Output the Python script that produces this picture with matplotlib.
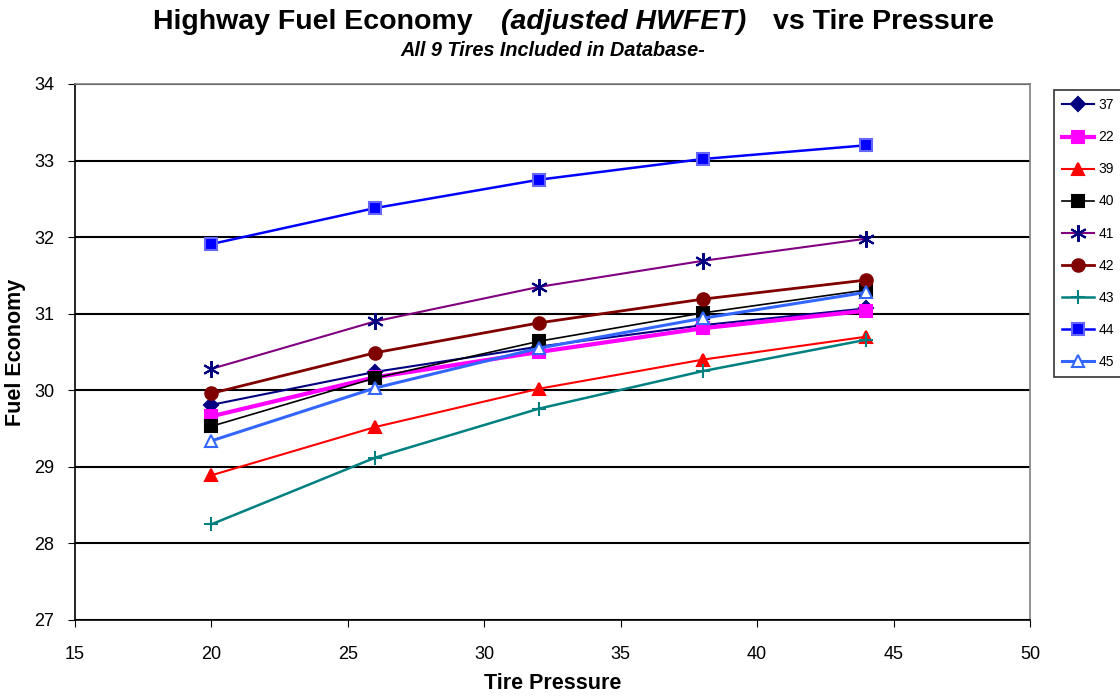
import matplotlib.pyplot as plt

plt.rcParams['font.family'] = ['Liberation Sans', 'DejaVu Sans']

# tire pressure settings tested
pressures = [20, 26, 32, 38, 44]

# adjusted HWFET fuel economy per tire
tire_37 = [29.81, 30.24, 30.57, 30.85, 31.07]
tire_22 = [29.66, 30.17, 30.50, 30.81, 31.04]
tire_39 = [28.89, 29.52, 30.02, 30.40, 30.70]
tire_40 = [29.53, 30.16, 30.64, 31.01, 31.31]
tire_41 = [30.28, 30.90, 31.35, 31.69, 31.98]
tire_42 = [29.96, 30.49, 30.88, 31.19, 31.44]
tire_43 = [28.25, 29.12, 29.76, 30.25, 30.66]
tire_44 = [31.91, 32.38, 32.75, 33.02, 33.20]
tire_45 = [29.34, 30.03, 30.55, 30.94, 31.28]

tire_labels = ['37', '22', '39', '40', '41', '42', '43', '44', '45']
x_ticks = [15, 20, 25, 30, 35, 40, 45, 50]
y_ticks = [27, 28, 29, 30, 31, 32, 33, 34]

# line color, marker, marker face, marker edge, line width, marker size
STYLES = [
    ('#000080', 'D', '#000080', '#000080', 1.5, 7),
    ('#FF00FF', 's', '#FF00FF', '#FF00FF', 3.0, 8),
    ('#FF0000', '^', '#FF0000', '#FF0000', 1.5, 9),
    ('#000000', 's', '#000000', '#000000', 1.2, 8),
    ('#800080', (6, 2, 0), '#000080', '#000080', 1.5, 12),
    ('#800000', 'o', '#800000', '#800000', 2.0, 9),
    ('#008080', '+', '#008080', '#008080', 1.8, 10),
    ('#0000FF', 's', '#0000FF', '#6666FF', 1.8, 8),
    ('#3366FF', '^', 'white', '#3366FF', 2.2, 9),
]

series = [tire_37, tire_22, tire_39, tire_40, tire_41,
          tire_42, tire_43, tire_44, tire_45]

fig = plt.figure(figsize=(11.2, 6.98), dpi=100)
ax = fig.add_axes([75 / 1120, 1 - 620 / 698, 955 / 1120, 536 / 698])

for values, label, style in zip(series, tire_labels, STYLES):
    color, marker, face, edge, lw, ms = style
    ax.plot(pressures, values, color=color, lw=lw, marker=marker,
            markerfacecolor=face, markeredgecolor=edge, markersize=ms,
            markeredgewidth=1.5, label=label, zorder=3)

ax.set_xlim(15, 50)
ax.set_ylim(27, 34)
ax.set_xticks(x_ticks)
ax.set_yticks(y_ticks)
ax.tick_params(labelsize=13, direction='out', length=5, color='black')
ax.tick_params(axis='x', pad=14)
ax.tick_params(axis='y', pad=10)
ax.yaxis.grid(True, color='black', lw=1.5)
ax.set_axisbelow(True)
for side in ax.spines.values():
    side.set_color('#808080')
    side.set_linewidth(1.2)
ax.spines['left'].set_color('black')
ax.spines['bottom'].set_color('black')

ax.set_xlabel('Tire Pressure', fontsize=15.5, fontweight='bold', labelpad=7)
ax.set_ylabel('Fuel Economy', fontsize=15.5, fontweight='bold', labelpad=6)

# title built from three pieces so the middle part can be italic
ty = 1 - 22 / 698
fig.text(473 / 1120, ty, 'Highway Fuel Economy', ha='right', va='center',
         fontsize=20.5, fontweight='bold')
fig.text(624 / 1120, ty, '(adjusted HWFET)', ha='center', va='center',
         fontsize=20.5, fontweight='bold', style='italic')
fig.text(773 / 1120, ty, 'vs Tire Pressure', ha='left', va='center',
         fontsize=20.5, fontweight='bold')
fig.text(553 / 1120, 1 - 50 / 698, 'All 9 Tires Included in Database-',
         ha='center', va='center', fontsize=14.3, fontweight='bold', style='italic')

leg = fig.legend(loc='upper left', bbox_to_anchor=(1054 / 1120, 1 - 90 / 698),
                 fontsize=10, frameon=True, fancybox=False, handlelength=2.3,
                 labelspacing=1.3, borderpad=0.6, borderaxespad=0,
                 handletextpad=0.3)
leg.get_frame().set_edgecolor('black')
leg.get_frame().set_linewidth(1.2)

fig.savefig('out.png', dpi=100)
